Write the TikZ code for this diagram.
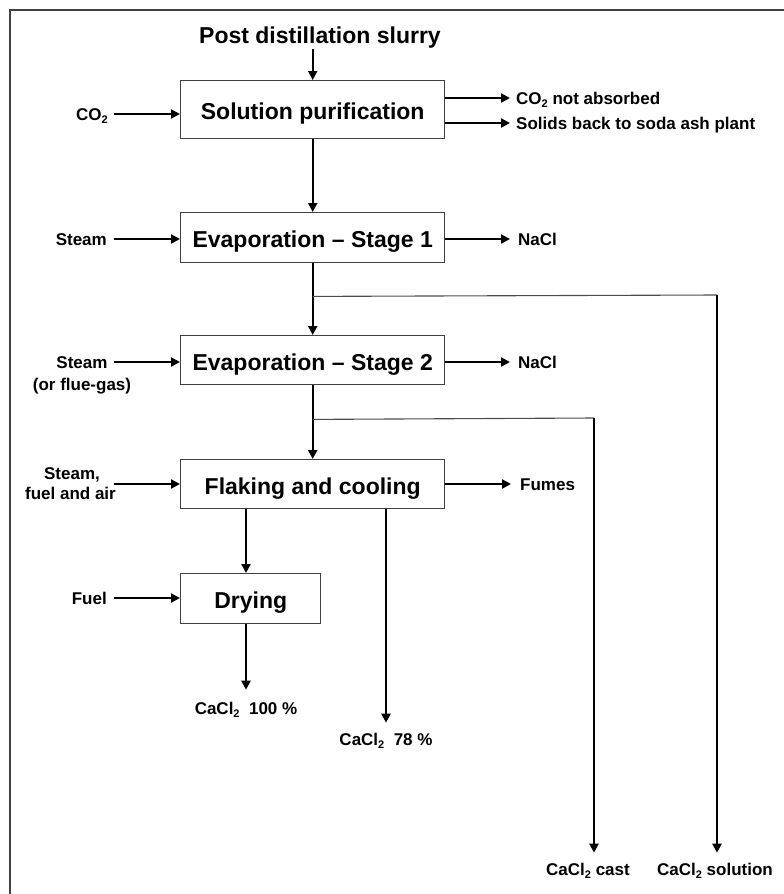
\documentclass[tikz,border=0pt]{standalone}
\usepackage{fontspec}
\setmainfont{Liberation Sans}
\usetikzlibrary{arrows.meta,calc}
\newcommand{\subtwo}{\raisebox{-3.5pt}{\fontsize{11}{11}\selectfont 2}}
\begin{document}
\begin{tikzpicture}[x=1pt,y=-1pt,
  box/.style={draw=black!75, line width=1.4pt, minimum width=264pt, inner sep=0pt,
    font=\fontsize{23}{27}\selectfont\bfseries, text height=20pt, text depth=0pt, anchor=north west},
  lab/.style={font=\fontsize{17}{21}\selectfont\bfseries, inner sep=0pt, text height=12.2pt, text depth=0pt},
  arr/.style={line width=2.2pt, -{Triangle[length=9pt,width=9pt]}},
  branchline/.style={line width=1.1pt, draw=black!70},
  framestyle/.style={line width=1.3pt, draw=black!75}]
\useasboundingbox (0,0) rectangle (784,894);
\draw[framestyle] (10,894) -- (10,10) -- (784,10);

% title
\node[font=\fontsize{23}{27}\selectfont\bfseries, anchor=base, inner sep=1pt] (title) at (320,43) {Post distillation slurry};

% boxes
\node[box, minimum height=58pt] (sol) at (180,80) {Solution purification};
\node[box, minimum height=50pt] (st1) at (180,212) {Evaporation – Stage 1};
\node[box, minimum height=49pt] (st2) at (180,335) {Evaporation – Stage 2};
\node[box, minimum height=49pt] (flk) at (180,459) {Flaking and cooling};
\node[box, minimum height=50pt, minimum width=140pt] (dry) at (180,573) {Drying};

% left inputs
\node[lab, anchor=east] (lco2) at (108,114) {CO\subtwo};
\node[lab, anchor=east] (ls1) at (107,239) {Steam};
\node[lab] (ls2) at (82,362) {Steam};
\node[lab] (ls2b) at (82,384) {(or flue-gas)};
\node[lab] (lf1) at (72,473) {Steam,};
\node[lab] (lf2) at (70.5,493) {fuel and air};
\coordinate (fin) at (114,484);
\node[lab, anchor=east] (lfu) at (107,598) {Fuel};

\draw[arr] ([xshift=6pt]lco2.east) -- (lco2.east -| sol.west);
\draw[arr] ([xshift=7pt]ls1.east) -- (ls1.east -| st1.west);
\draw[arr] ([xshift=6pt]ls2.east) -- (ls2.east -| st2.west);
\draw[arr] (fin) -- (fin -| flk.west);
\draw[arr] ([xshift=7pt]lfu.east) -- (lfu.east -| dry.west);

% right outputs
\node[lab, anchor=west] (oco2) at (516,98) {CO\subtwo{} not absorbed};
\node[lab, anchor=west] (osol) at (516,123) {Solids back to soda ash plant};
\node[lab, anchor=west] (ona1) at (518,239) {NaCl};
\node[lab, anchor=west] (ona2) at (518,362) {NaCl};
\node[lab, anchor=west] (ofum) at (520,484) {Fumes};

\draw[arr] (oco2.west -| sol.east) -- ([xshift=-6pt]oco2.west);
\draw[arr] (osol.west -| sol.east) -- ([xshift=-6pt]osol.west);
\draw[arr] (ona1.west -| st1.east) -- ([xshift=-8pt]ona1.west);
\draw[arr] (ona2.west -| st2.east) -- ([xshift=-8pt]ona2.west);
\draw[arr] (ofum.west -| flk.east) -- ([xshift=-9pt]ofum.west);

% bottom products
\node[lab] (l100) at (246,708) {CaCl\subtwo\ \ 100 \%};
\node[lab] (l78) at (386,739) {CaCl\subtwo\ \ 78 \%};
\node[lab] (lcast) at (588,869) {CaCl\subtwo{} cast};
\node[lab] (lsoln) at (715,869) {CaCl\subtwo{} solution};

% main flow
\draw[arr, line width=1.7pt] (sol.north |- title.south) -- (sol.north);
\draw[arr] (sol.south) -- (st1.north);
\draw[arr] (st1.south) -- (st2.north);
\draw[arr] (st2.south) -- (flk.north);
\draw[arr] ([xshift=66pt]flk.south west) -- ([xshift=66pt]dry.north west);
\draw[arr] ([xshift=206pt]flk.south west) -- ($(l78.north)+(0,10pt)$);
\draw[arr] ([xshift=66pt]dry.south west) -- ($(l100.north)+(0,12pt)$);

% branches
\path (st1.south) ++(0,33) coordinate (b1);
\coordinate (c1) at (717,295);
\draw[branchline] (b1) -- (c1);
\draw[arr] (c1) -- ($(c1 |- lsoln.north)+(0,10pt)$);

\path (st2.south) ++(0,34) coordinate (b2);
\coordinate (c2) at (594,418);
\draw[branchline] (b2) -- (c2);
\draw[arr] (c2) -- ($(c2 |- lcast.north)+(0,10pt)$);
\end{tikzpicture}
\end{document}
